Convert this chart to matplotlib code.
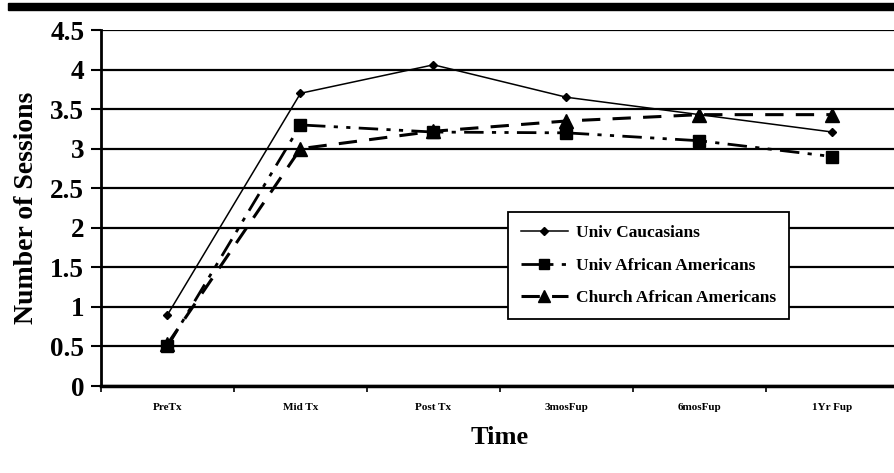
import matplotlib
matplotlib.use("Agg")
import matplotlib.pyplot as plt
from matplotlib.patches import Rectangle

# data
time_labels = ["PreTx", "Mid Tx", "Post Tx", "3mosFup", "6mosFup", "1Yr Fup"]
univ_caucasians = [0.9, 3.7, 4.06, 3.65, 3.43, 3.21]
univ_african_am = [0.5, 3.3, 3.21, 3.2, 3.1, 2.9]
church_african_am = [0.53, 3.0, 3.22, 3.35, 3.43, 3.43]
y_ticks = [0, 0.5, 1, 1.5, 2, 2.5, 3, 3.5, 4, 4.5]

plt.rcParams['font.family'] = ['Liberation Serif', 'DejaVu Serif']

fig = plt.figure(figsize=(8.95, 4.73), dpi=100)
ax = fig.add_axes([101 / 895, 1 - 386 / 473, 798 / 895, 356 / 473])

# thick black bar at the very top
fig.patches.append(Rectangle((8 / 895, 1 - 10 / 473), 1, 7 / 473,
                             transform=fig.transFigure, color='black', zorder=5))

x = list(range(len(time_labels)))
ax.plot(x, univ_caucasians, '-', color='black', lw=1.1, marker='D', ms=4,
        label='Univ Caucasians', zorder=3)
ax.plot(x, univ_african_am, color='black', lw=2.0, marker='s', ms=9,
        dashes=[7, 3, 1.5, 3, 1.5, 3], label='Univ African Americans', zorder=3)
ax.plot(x, church_african_am, color='black', lw=2.2, marker='^', ms=10,
        dashes=[6, 4], label='Church African Americans', zorder=3)

ax.set_xlim(-0.5, 5.5)
ax.set_ylim(0, 4.5)
ax.set_yticks(y_ticks)
ax.set_yticklabels(['0', '0.5', '1', '1.5', '2', '2.5', '3', '3.5', '4', '4.5'],
                   fontsize=19.5, fontweight='bold')
ax.set_xticks(x)
ax.set_xticklabels(time_labels, fontsize=8, fontweight='bold')
ax.set_xticks([i - 0.5 for i in range(len(time_labels) + 1)], minor=True)
ax.tick_params(axis='x', which='major', length=0, pad=12)
ax.tick_params(axis='x', which='minor', length=4, width=1.2, direction='out')
ax.tick_params(axis='y', length=7, width=1.5, direction='out', pad=5)

ax.yaxis.grid(True, color='black', lw=1.6)
ax.set_axisbelow(True)
for side in ['top', 'right']:
    ax.spines[side].set_visible(False)
ax.spines['left'].set_linewidth(2)
ax.spines['bottom'].set_linewidth(2.5)

ax.set_ylabel('Number of Sessions', fontsize=20, fontweight='bold', labelpad=8)
ax.set_xlabel('Time', fontsize=19, fontweight='bold', labelpad=10)

leg = fig.legend(loc='upper left', bbox_to_anchor=(508 / 895, 1 - 212 / 473),
                 frameon=True, fancybox=False, edgecolor='black', framealpha=1,
                 prop={'weight': 'bold', 'size': 12.5}, handlelength=2.7,
                 labelspacing=0.95, borderpad=0.75, handletextpad=0.45,
                 borderaxespad=0)
leg.get_frame().set_linewidth(1.3)
leg.set_zorder(6)
for line, size in zip(leg.get_lines(), [4, 7, 8]):
    line.set_markersize(size)

fig.savefig('out.png', dpi=100, facecolor='white')
